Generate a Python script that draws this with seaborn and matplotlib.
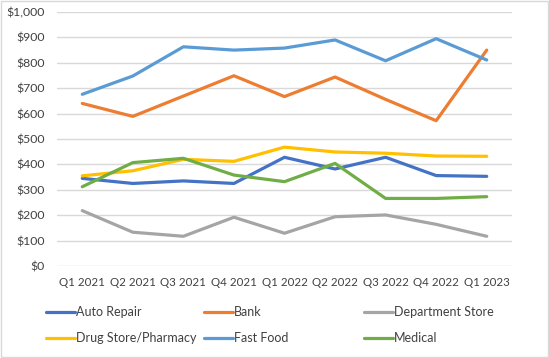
import matplotlib
matplotlib.use("Agg")
import matplotlib.pyplot as plt
import seaborn as sns
import pandas as pd
from matplotlib.lines import Line2D
from matplotlib.patches import Rectangle
from matplotlib.ticker import FuncFormatter

quarters = ["Q1 2021", "Q2 2021", "Q3 2021", "Q4 2021", "Q1 2022",
            "Q2 2022", "Q3 2022", "Q4 2022", "Q1 2023"]
auto_repair = [345, 325, 335, 325, 428, 382, 428, 356, 353]
bank = [640, 589, 669, 749, 667, 744, 656, 572, 850]
department_store = [218, 133, 117, 192, 129, 194, 201, 164, 117]
drug_store = [355, 375, 420, 412, 468, 449, 444, 433, 432]
fast_food = [676, 748, 863, 850, 858, 890, 808, 895, 811]
medical = [312, 407, 424, 358, 332, 404, 266, 266, 273]

series_names = ["Auto Repair", "Bank", "Department Store",
                "Drug Store/Pharmacy", "Fast Food", "Medical"]
series_values = [auto_repair, bank, department_store, drug_store, fast_food, medical]
colors = ["#4472C4", "#ED7D31", "#A5A5A5", "#FFC000", "#5B9BD5", "#70AD47"]

rows = []
for name, vals in zip(series_names, series_values):
    for i, (q, v) in enumerate(zip(quarters, vals)):
        rows.append({"Quarter": q, "idx": i, "Series": name, "Value": v})
df = pd.DataFrame(rows)

sns.set_theme(style="white")
plt.rcParams["font.family"] = ["Lato", "DejaVu Sans"]

fig = plt.figure(figsize=(5.49, 3.58), dpi=100)
ax = fig.add_axes([57/549, 1-266/358, (512-57)/549, (266-12)/358])

palette = dict(zip(series_names, colors))
sns.lineplot(data=df, x="idx", y="Value", hue="Series", hue_order=series_names,
             palette=palette, linewidth=2.3, ax=ax, legend=False, sort=False)

ax.set_xlim(-0.5, len(quarters) - 0.5)
ax.set_ylim(0, 1000)
ax.set_yticks(range(0, 1001, 100))
ax.yaxis.set_major_formatter(FuncFormatter(lambda v, p: f"${int(v):,}"))
ax.set_xticks(range(len(quarters)))
ax.set_xticklabels(quarters)
ax.set_xlabel("")
ax.set_ylabel("")
for s in ax.spines.values():
    s.set_visible(False)
ax.grid(axis="y", color="#D9D9D9", linewidth=1.0)
ax.set_axisbelow(True)
ax.tick_params(axis="both", length=0, colors="#404040")
ax.tick_params(axis="y", pad=9, labelsize=8.8)
ax.tick_params(axis="x", pad=8, labelsize=8.3)

# legend: three columns placed like the reference
cols = [(0, 3), (1, 4), (2, 5)]
xpos = [46/549, 204/549, 364/549]
for (a, b), xp in zip(cols, xpos):
    handles = [Line2D([], [], color=colors[k], linewidth=2.3) for k in (a, b)]
    labels = [series_names[k] for k in (a, b)]
    fig.legend(handles, labels, loc="upper left", bbox_to_anchor=(xp, 1-306/358),
               frameon=False, fontsize=9.0, handlelength=2.3, handletextpad=0.1,
               labelspacing=1.15, borderaxespad=0, borderpad=0,
               labelcolor="#404040")

fig.patches.append(Rectangle((0.002, 0.003), 0.996, 0.994, transform=fig.transFigure,
                             fill=False, edgecolor="#D9D9D9", linewidth=1))

fig.savefig("out.png", dpi=100)
